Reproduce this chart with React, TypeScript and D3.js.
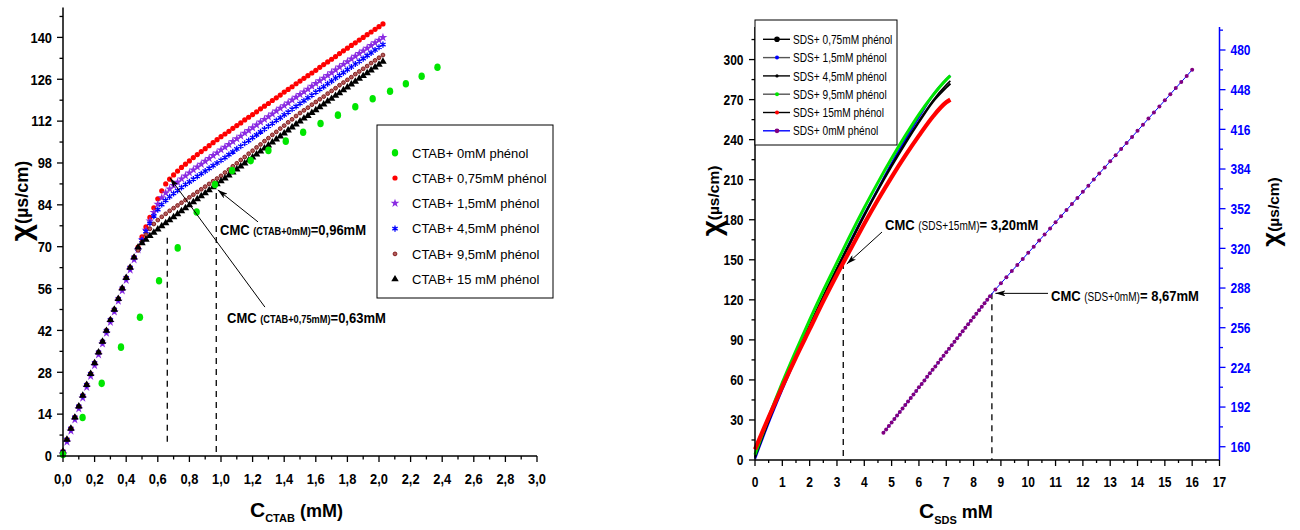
import React from 'react';
import * as d3 from 'd3';

// ================= LEFT CHART DATA (CTAB) =================
const CTAB_STEP = 0.025; // concentration step of the dense series (mM)

// common pre-micellar part, x = 0 … 0.45 mM
const premicellar = [1.5, 5.5, 9.2, 12.9, 16.6, 20.2, 23.8, 27.5, 31.1, 34.7, 38.3, 41.9, 45.5, 49.0, 52.6, 56.1, 59.6, 63.0, 66.4];
const premicellarPurple = [0.8, 4.7, 8.4, 12.1, 15.8, 19.4, 23.0, 26.7, 30.3, 33.9, 37.5, 41.1, 44.7, 48.2, 51.8, 55.3, 58.8, 62.2, 65.6];

// x = 0.475 … 2.025 mM
const ctab075Tail = [69.9, 73.3, 76.6, 79.8, 83.0, 86.0, 88.7, 91.0, 92.6, 94.0, 95.3, 96.5, 97.6, 98.7, 99.8, 100.8, 101.8, 102.8, 103.8, 104.8, 105.8, 106.8,
  107.7, 108.6, 109.6, 110.5, 111.4, 112.4, 113.3, 114.2, 115.1, 116.1, 117.0, 117.9, 118.9, 119.8, 120.7, 121.7, 122.6, 123.5, 124.5, 125.4,
  126.3, 127.2, 128.1, 129.0, 130.0, 130.9, 131.8, 132.7, 133.6, 134.6, 135.5, 136.4, 137.3, 138.2, 139.1, 140.0, 140.9, 141.8, 142.7, 143.6, 144.5];
const ctab15Tail = [69.0, 72.3, 75.5, 78.6, 81.5, 84.2, 86.4, 88.0, 89.3, 90.5, 91.6, 92.7, 93.7, 94.7, 95.7, 96.7, 97.6, 98.6, 99.5, 100.5, 101.4, 102.4,
  103.3, 104.2, 105.2, 106.1, 107.0, 108.0, 108.9, 109.8, 110.7, 111.7, 112.6, 113.5, 114.4, 115.4, 116.3, 117.2, 118.1, 119.1, 120.0, 120.9,
  121.8, 122.7, 123.7, 124.6, 125.5, 126.4, 127.3, 128.2, 129.1, 130.1, 131.0, 131.9, 132.8, 133.7, 134.6, 135.5, 136.4, 137.3, 138.2, 139.1, 140.0];
const ctab45Tail = [69.2, 72.2, 75.1, 77.8, 80.3, 82.4, 84.1, 85.5, 86.7, 87.8, 88.8, 89.8, 90.8, 91.7, 92.6, 93.5, 94.4, 95.3, 96.2, 97.1, 98.0, 98.9,
  99.8, 100.8, 101.7, 102.7, 103.6, 104.6, 105.5, 106.5, 107.4, 108.4, 109.3, 110.3, 111.2, 112.2, 113.1, 114.1, 115.0, 116.0, 116.9, 117.9,
  118.8, 119.8, 120.7, 121.7, 122.6, 123.5, 124.5, 125.4, 126.4, 127.3, 128.2, 129.2, 130.1, 131.1, 132.0, 132.9, 133.9, 134.8, 135.8, 136.7, 137.6];
const ctab95Tail = [68.8, 71.6, 74.0, 76.0, 77.6, 78.9, 80.0, 81.0, 82.0, 82.9, 83.8, 84.7, 85.6, 86.5, 87.4, 88.3, 89.2, 90.1, 91.0, 91.9, 92.8, 93.7,
  94.8, 95.8, 96.9, 97.9, 99.0, 100.0, 101.1, 102.1, 103.2, 104.2, 105.3, 106.3, 107.4, 108.4, 109.5, 110.5, 111.6, 112.6, 113.7, 114.7,
  115.6, 116.5, 117.5, 118.4, 119.3, 120.2, 121.2, 122.1, 123.0, 124.0, 124.9, 125.8, 126.7, 127.7, 128.6, 129.5, 130.4, 131.4, 132.3, 133.2, 134.1];
const ctab150Tail = [69.8, 71.2, 72.4, 73.6, 74.7, 75.8, 76.9, 77.9, 78.9, 79.9, 80.9, 81.9, 82.9, 83.9, 84.9, 85.9, 86.9, 87.9, 88.9, 89.9, 90.9, 91.9,
  92.9, 93.9, 94.9, 95.9, 96.9, 97.9, 98.9, 99.9, 100.9, 101.9, 102.9, 103.9, 104.9, 105.9, 106.9, 107.9, 108.9, 109.9, 110.9, 111.9,
  112.9, 113.8, 114.8, 115.7, 116.7, 117.6, 118.6, 119.5, 120.5, 121.4, 122.4, 123.3, 124.3, 125.2, 126.2, 127.1, 128.1, 129.0, 130.0, 130.9, 131.9];

const ctab075 = [...premicellar, ...ctab075Tail];
const ctab15 = [...premicellarPurple, ...ctab15Tail];
const ctab45 = [...premicellar, ...ctab45Tail];
const ctab95 = [...premicellar, ...ctab95Tail];
const ctab150 = [...premicellar, ...ctab150Tail];

// CTAB + 0 mM phenol (sparse green points)
const ctab0X = [0, 0.124, 0.245, 0.367, 0.487, 0.608, 0.726, 0.846, 0.962, 1.07, 1.188, 1.30, 1.41, 1.52, 1.63, 1.74, 1.85, 1.96, 2.07, 2.17, 2.27, 2.37];
const ctab0Y = [0.5, 12.9, 24.3, 36.4, 46.4, 58.6, 69.6, 81.6, 90.8, 95.5, 98.8, 102.2, 105.3, 108.3, 111.2, 114.0, 116.8, 119.5, 122.0, 124.5, 127.0, 130.0];

const ctabXTicks = [0, 0.2, 0.4, 0.6, 0.8, 1.0, 1.2, 1.4, 1.6, 1.8, 2.0, 2.2, 2.4, 2.6, 2.8, 3.0];
const ctabYTicks = [0, 14, 28, 42, 56, 70, 84, 98, 112, 126, 140];
const ctabLegend = ['CTAB+ 0mM phénol', 'CTAB+ 0,75mM phénol', 'CTAB+ 1,5mM phénol', 'CTAB+ 4,5mM phénol', 'CTAB+ 9,5mM phénol', 'CTAB+ 15 mM phénol'];

// ================= RIGHT CHART DATA (SDS) =================
const sdsX = [0, 0.5, 1, 1.5, 2, 2.5, 3, 3.5, 4, 4.5, 5, 5.5, 6, 6.5, 7, 7.15];
const sds075 = [2, 29, 54, 78, 100, 122, 143, 163, 183, 202, 220, 237, 253, 268, 279, 282];
const sds15 = [1, 28, 53, 77, 100, 122, 143, 164, 184, 203, 222, 240, 257, 273, 285, 288];
const sds45 = [3, 30, 55, 79, 101, 123, 144, 164, 184, 203, 221, 238, 254, 269, 281, 284];
const sds95 = [4, 32, 58, 82, 105, 127, 148, 169, 189, 208, 226, 243, 259, 273, 285, 288];
const sds150 = [8, 32, 55, 77, 98, 119, 139, 158, 177, 195, 212, 228, 243, 257, 268, 270];

// SDS + 0 mM phenol (right axis)
const sds0X = [4.7, 4.8, 4.9, 5.0, 5.1, 5.2, 5.3, 5.4, 5.5, 5.6, 5.7, 5.8, 5.9, 6.0, 6.1, 6.2, 6.3, 6.4, 6.5, 6.6, 6.7, 6.8, 6.9, 7.0,
  7.1, 7.2, 7.3, 7.4, 7.5, 7.6, 7.7, 7.8, 7.9, 8.0, 8.1, 8.2, 8.3, 8.4, 8.5, 8.6,
  8.8, 9.0, 9.2, 9.4, 9.6, 9.8, 10.0, 10.2, 10.4, 10.6, 10.8, 11.0, 11.2, 11.4, 11.6, 11.8, 12.0, 12.2, 12.4, 12.6, 12.8, 13.0,
  13.2, 13.4, 13.6, 13.8, 14.0, 14.2, 14.4, 14.6, 14.8, 15.0, 15.2, 15.4, 15.6, 15.8, 16.0];
const sds0Y = [171.2, 174.0, 176.8, 179.6, 182.4, 185.2, 188.1, 190.9, 193.7, 196.5, 199.4, 202.2, 205.0, 207.9, 210.7, 213.5, 216.4, 219.2, 222.0, 224.8, 227.7, 230.5, 233.3, 236.2,
  239.0, 241.8, 244.7, 247.5, 250.3, 253.1, 256.0, 258.8, 261.6, 264.5, 267.3, 270.1, 272.9, 275.8, 278.6, 281.4,
  286.9, 291.8, 296.7, 301.7, 306.6, 311.5, 316.4, 321.3, 326.3, 331.2, 336.1, 341.0, 345.9, 350.9, 355.8, 360.7, 365.6, 370.5, 375.5, 380.4, 385.3, 390.2,
  395.1, 400.1, 405.0, 409.9, 414.8, 419.7, 424.7, 429.6, 434.5, 439.4, 444.3, 449.3, 454.2, 459.1, 464.0];

const sdsXTicks = [0, 1, 2, 3, 4, 5, 6, 7, 8, 9, 10, 11, 12, 13, 14, 15, 16, 17];
const sdsYTicks = [0, 30, 60, 90, 120, 150, 180, 210, 240, 270, 300];
const sdsY2Ticks = [160, 192, 224, 256, 288, 320, 352, 384, 416, 448, 480];
const sdsLegend = ['SDS+ 0,75mM phénol', 'SDS+ 1,5mM phénol', 'SDS+ 4,5mM phénol', 'SDS+ 9,5mM phénol', 'SDS+ 15mM phénol', 'SDS+ 0mM phénol'];

// ================= STYLE =================
const FONT = '"Liberation Sans", Arial, Helvetica, sans-serif';
const GREEN = '#00e600';
const RED = '#ff0000';
const VIOLET = '#8a2be2';
const BLUE = '#0000ff';
const MAROON = '#7a1010';
const PURPLE = '#800080';

const comma = (v: number, d = 1) => v.toFixed(d).replace('.', ',');

type MarkerKind = 'ellipse' | 'circle' | 'star' | 'asterisk' | 'ring' | 'triangle';
const starPath = d3.symbol().type(d3.symbolStar).size(24)() as string;
const asteriskPath = d3.symbol().type(d3.symbolAsterisk).size(26)() as string;
const trianglePath = d3.symbol().type(d3.symbolTriangle).size(24)() as string;

function Marker({ kind, x, y, color }: { kind: MarkerKind; x: number; y: number; color: string }) {
  switch (kind) {
    case 'ellipse':
      return <ellipse cx={x} cy={y} rx={3.2} ry={3.8} fill={color} />;
    case 'circle':
      return <circle cx={x} cy={y} r={2.6} fill={color} />;
    case 'star':
      return <path d={starPath} transform={`translate(${x},${y})`} fill={color} />;
    case 'asterisk':
      return <path d={asteriskPath} transform={`translate(${x},${y})`} fill="none" stroke={color} strokeWidth={1.3} />;
    case 'ring':
      return <circle cx={x} cy={y} r={1.9} fill="#b35c5c" stroke={color} strokeWidth={0.9} />;
    case 'triangle':
      return <path d={trianglePath} transform={`translate(${x},${y})`} fill={color} />;
  }
  return null;
}

function CText({ x, y, size, sx = 0.86, anchor = 'middle', fill = '#000', weight = 'bold', children }: any) {
  return (
    <text transform={`translate(${x},${y}) scale(${sx},1)`} textAnchor={anchor} fontSize={size} fontWeight={weight}
      fill={fill} fontFamily={FONT}>{children}</text>
  );
}

export default function App() {
  // ---------- left scales ----------
  const xL = d3.scaleLinear().domain([0, 3]).range([63, 537]);
  const yL = d3.scaleLinear().domain([0, 150]).range([456, 7.5]);
  // ---------- right scales ----------
  const xR = d3.scaleLinear().domain([0, 17]).range([755, 1219.5]);
  const yR = d3.scaleLinear().domain([0, 324.4]).range([460, 27]);
  const yR2 = d3.scaleLinear().domain([149.3, 498.55]).range([460, 27]);

  const ctabX = ctab075.map((_, i) => i * CTAB_STEP);
  const denseSeries: { y: number[]; kind: MarkerKind; color: string }[] = [
    { y: ctab075, kind: 'circle', color: RED },
    { y: ctab15, kind: 'star', color: VIOLET },
    { y: ctab45, kind: 'asterisk', color: BLUE },
    { y: ctab95, kind: 'ring', color: MAROON },
    { y: ctab150, kind: 'triangle', color: '#000' },
  ];
  const legendKinds: { kind: MarkerKind; color: string }[] = [
    { kind: 'ellipse', color: GREEN },
    { kind: 'circle', color: RED },
    { kind: 'star', color: VIOLET },
    { kind: 'asterisk', color: BLUE },
    { kind: 'ring', color: MAROON },
    { kind: 'triangle', color: '#000' },
  ];

  const lineR = (ys: number[]) =>
    d3.line<number>().x((_, i) => xR(sdsX[i])).y((d) => yR(d)).curve(d3.curveMonotoneX)(ys) as string;
  const sds0Line = d3.line<number>().x((_, i) => xR(sds0X[i])).y((d) => yR2(d))(sds0Y) as string;

  const xMinorL = d3.range(0, 3.0001, 0.1);
  const yMinorL = d3.range(0, 150, 7);
  const xMinorR = d3.range(0, 17.0001, 0.5);
  const yMinorR = d3.range(0, 324, 15);
  const yMinorR2 = d3.range(160, 498, 16);

  const sdsLineStyles = [
    { y: sds15, color: BLUE, w: 2.4 },
    { y: sds075, color: '#000', w: 2 },
    { y: sds45, color: '#000', w: 1.6 },
    { y: sds95, color: GREEN, w: 3 },
    { y: sds150, color: RED, w: 4.2 },
  ];
  const sdsLegendStyles = [
    { line: '#000', dot: '#000', r: 2.8 },
    { line: '#555', dot: BLUE, r: 2 },
    { line: '#000', dot: '#000', r: 1.6 },
    { line: '#555', dot: GREEN, r: 2 },
    { line: '#000', dot: RED, r: 2 },
    { line: BLUE, dot: PURPLE, r: 2.4 },
  ];

  return (
    <svg width={1300} height={530} style={{ position: 'absolute', left: 0, top: 0, background: '#fff' }}
      fontFamily={FONT}>
      <defs>
        <marker id="arr" viewBox="0 0 10 6" refX={10} refY={3} markerWidth={10} markerHeight={6}
          markerUnits="userSpaceOnUse" orient="auto">
          <path d="M0,0 L10,3 L0,6 L2.5,3 Z" fill="#000" />
        </marker>
      </defs>
      <rect x={0} y={0} width={1300} height={530} fill="#fff" />

      {/* ================= LEFT CHART ================= */}
      <line x1={xL(0.66)} x2={xL(0.66)} y1={yL(73)} y2={yL(4.7)} stroke="#000" strokeWidth={1.3} strokeDasharray="6,5" />
      <line x1={xL(0.97)} x2={xL(0.97)} y1={yL(88)} y2={yL(1)} stroke="#000" strokeWidth={1.3} strokeDasharray="6,5" />

      {denseSeries.map((s, si) => (
        <g key={si}>
          {s.y.map((v, i) => <Marker key={i} kind={s.kind} x={xL(ctabX[i])} y={yL(v)} color={s.color} />)}
        </g>
      ))}
      {ctab0Y.map((v, i) => <Marker key={i} kind="ellipse" x={xL(ctab0X[i])} y={yL(v)} color={GREEN} />)}

      {/* axes */}
      <line x1={xL(0)} x2={xL(3)} y1={456} y2={456} stroke="#000" strokeWidth={1.5} />
      <line x1={63} x2={63} y1={yL(150)} y2={456} stroke="#000" strokeWidth={1.5} />
      {xMinorL.map((t, i) => (
        <line key={i} x1={xL(t)} x2={xL(t)} y1={456} y2={i % 2 === 0 ? 462 : 459.5} stroke="#000" strokeWidth={1.3} />
      ))}
      {yMinorL.map((t, i) => (
        <line key={i} x1={63} x2={i % 2 === 0 ? 57 : 59.5} y1={yL(t)} y2={yL(t)} stroke="#000" strokeWidth={1.3} />
      ))}
      {ctabXTicks.map((t) => <CText key={t} x={xL(t)} y={484} size={15}>{comma(t)}</CText>)}
      {ctabYTicks.map((t) => <CText key={t} x={52} y={yL(t) + 5.3} size={15} anchor="end">{t}</CText>)}

      {/* axis titles */}
      <text transform="translate(31,201) rotate(-90)" textAnchor="middle" fontWeight="bold" fontFamily={FONT}>
        <tspan fontSize={30}>χ</tspan><tspan fontSize={18} dy={-3}>(µs/cm)</tspan>
      </text>
      <text x={250} y={517} fontWeight="bold" fontFamily={FONT}>
        <tspan fontSize={21}>C</tspan><tspan fontSize={11} dy={5}>CTAB</tspan><tspan fontSize={18} dy={-5} dx={5}>(mM)</tspan>
      </text>

      {/* annotations */}
      <line x1={xL(1.234)} y1={yL(78.3)} x2={xL(0.98)} y2={yL(89)} stroke="#000" strokeWidth={1} markerEnd="url(#arr)" />
      <line x1={xL(1.278)} y1={yL(49.8)} x2={xL(0.677)} y2={yL(93)} stroke="#000" strokeWidth={1} markerEnd="url(#arr)" />
      <g transform="translate(220,235) scale(0.84,1)">
        <text fontWeight="bold" fontFamily={FONT}>
          <tspan fontSize={15.5}>CMC </tspan><tspan fontSize={11}>(CTAB+0mM)</tspan><tspan fontSize={15.5}>=0,96mM</tspan>
        </text>
      </g>
      <g transform="translate(227,323) scale(0.84,1)">
        <text fontWeight="bold" fontFamily={FONT}>
          <tspan fontSize={15.5}>CMC </tspan><tspan fontSize={11}>(CTAB+0,75mM)</tspan><tspan fontSize={15.5}>=0,63mM</tspan>
        </text>
      </g>

      {/* legend */}
      <rect x={377} y={125} width={176} height={173} fill="#fff" stroke="#000" strokeWidth={1} />
      {ctabLegend.map((lab, i) => {
        const cy = 152.7 + i * 25.3;
        return (
          <g key={i}>
            <Marker kind={legendKinds[i].kind} x={395} y={cy} color={legendKinds[i].color} />
            <text x={412} y={cy + 4.8} fontSize={13} fontFamily={FONT}>{lab}</text>
          </g>
        );
      })}

      {/* ================= RIGHT CHART ================= */}
      <line x1={xR(3.23)} x2={xR(3.23)} y1={263} y2={460} stroke="#000" strokeWidth={1.3} strokeDasharray="6,5" />
      <line x1={xR(8.67)} x2={xR(8.67)} y1={yR2(283.7)} y2={460} stroke="#000" strokeWidth={1.3} strokeDasharray="6,5" />

      {sdsLineStyles.map((s, i) => (
        <path key={i} d={lineR(s.y)} fill="none" stroke={s.color} strokeWidth={s.w} />
      ))}
      <path d={sds0Line} fill="none" stroke={BLUE} strokeWidth={1} />
      {sds0Y.map((v, i) => <circle key={i} cx={xR(sds0X[i])} cy={yR2(v)} r={2} fill={PURPLE} />)}

      {/* axes */}
      <line x1={755} x2={1219.5} y1={460} y2={460} stroke="#000" strokeWidth={1.5} />
      <line x1={755} x2={755} y1={27} y2={460} stroke="#000" strokeWidth={1.5} />
      <line x1={1219.5} x2={1219.5} y1={27} y2={460} stroke={BLUE} strokeWidth={1.5} />
      {xMinorR.map((t, i) => (
        <line key={i} x1={xR(t)} x2={xR(t)} y1={460} y2={i % 2 === 0 ? 466 : 463} stroke="#000" strokeWidth={1.3} />
      ))}
      {yMinorR.map((t, i) => (
        <line key={i} x1={755} x2={i % 2 === 0 ? 749 : 751.5} y1={yR(t)} y2={yR(t)} stroke="#000" strokeWidth={1.3} />
      ))}
      {yMinorR2.map((t, i) => (
        <line key={i} x1={1219.5} x2={i % 2 === 0 ? 1225.5 : 1223} y1={yR2(t)} y2={yR2(t)} stroke={BLUE} strokeWidth={1.3} />
      ))}
      {sdsXTicks.map((t) => <CText key={t} x={xR(t)} y={487} size={15} sx={0.8}>{t}</CText>)}
      {sdsYTicks.map((t) => <CText key={t} x={743.5} y={yR(t) + 5.3} size={15} sx={0.8} anchor="end">{t}</CText>)}
      {sdsY2Ticks.map((t) => <CText key={t} x={1230.5} y={yR2(t) + 5.3} size={15} sx={0.8} anchor="start" fill={BLUE}>{t}</CText>)}

      <text transform="translate(721,201) rotate(-90)" textAnchor="middle" fontWeight="bold" fontFamily={FONT}>
        <tspan fontSize={28}>χ</tspan><tspan fontSize={15.5} dy={-2}>(µs/cm)</tspan>
      </text>
      <text transform="translate(1280,212) rotate(-90)" textAnchor="middle" fontWeight="bold" fontFamily={FONT}>
        <tspan fontSize={26}>χ</tspan><tspan fontSize={15.5} dy={-1}>(µs/cm)</tspan>
      </text>
      <text x={919} y={518} fontWeight="bold" fontFamily={FONT}>
        <tspan fontSize={21}>C</tspan><tspan fontSize={11} dy={6}>SDS</tspan><tspan fontSize={18} dy={-6}> mM</tspan>
      </text>

      {/* annotations */}
      <line x1={882} y1={232} x2={xR(3.36)} y2={264} stroke="#000" strokeWidth={1} markerEnd="url(#arr)" />
      <line x1={1048} y1={yR2(283.7)} x2={xR(8.8)} y2={yR2(283.7)} stroke="#000" strokeWidth={1} markerEnd="url(#arr)" />
      <g transform="translate(885,230) scale(0.84,1)">
        <text fontFamily={FONT}>
          <tspan fontSize={15.5} fontWeight="bold">CMC </tspan><tspan fontSize={12}>(SDS+15mM)</tspan><tspan fontSize={15.5} fontWeight="bold">= 3,20mM</tspan>
        </text>
      </g>
      <g transform="translate(1051,301) scale(0.84,1)">
        <text fontFamily={FONT}>
          <tspan fontSize={15.5} fontWeight="bold">CMC </tspan><tspan fontSize={12}>(SDS+0mM)</tspan><tspan fontSize={15.5} fontWeight="bold">= 8,67mM</tspan>
        </text>
      </g>

      {/* legend */}
      <rect x={755} y={20} width={142} height={125} fill="#fff" stroke="#000" strokeWidth={1} />
      {sdsLegend.map((lab, i) => {
        const cy = 39.3 + i * 18.3;
        const st = sdsLegendStyles[i];
        return (
          <g key={i}>
            <line x1={763} x2={790} y1={cy} y2={cy} stroke={st.line} strokeWidth={1.4} />
            <circle cx={777} cy={cy} r={st.r} fill={st.dot} />
            <g transform={`translate(793,${cy + 4.6}) scale(0.78,1)`}>
              <text fontSize={13} fontFamily={FONT}>{lab}</text>
            </g>
          </g>
        );
      })}
    </svg>
  );
}
